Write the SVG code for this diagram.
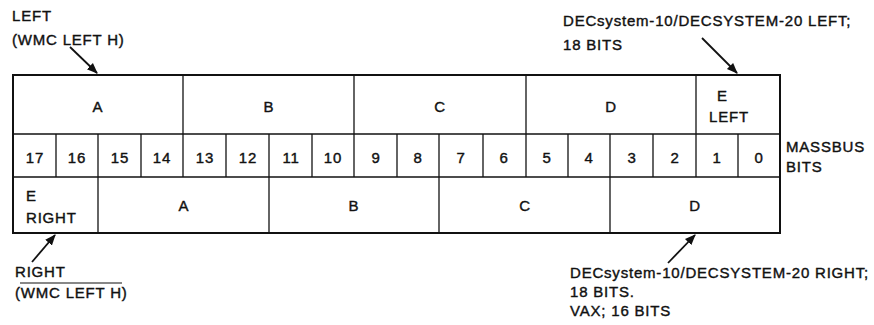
<svg xmlns="http://www.w3.org/2000/svg" width="874" height="325" viewBox="0 0 874 325">
<style>
text{font-family:"Liberation Sans",Arial,sans-serif;font-size:15px;fill:#111;stroke:#111;stroke-width:0.4;letter-spacing:0.8px}
.c{text-anchor:middle}
.ln{stroke:#111;stroke-width:1.3;fill:none}
.box{stroke:#111;stroke-width:2;fill:#fff}
.ar{stroke:#111;stroke-width:1.8;fill:none}
</style>
<defs>
<marker id="ah" viewBox="0 0 10 10" refX="9" refY="5" markerWidth="11" markerHeight="11" markerUnits="userSpaceOnUse" orient="auto">
<path d="M0,1 L10,5 L0,9 z" fill="#111"/>
</marker>
</defs>
<g id="register">
<rect class="box" x="13" y="75" width="767" height="158"/>
<line class="ln" x1="13" y1="134" x2="780" y2="134"/>
<line class="ln" x1="13" y1="177" x2="780" y2="177"/>
<g id="top-row">
<line class="ln" x1="183" y1="75" x2="183" y2="134"/>
<line class="ln" x1="354" y1="75" x2="354" y2="134"/>
<line class="ln" x1="526" y1="75" x2="526" y2="134"/>
<line class="ln" x1="696" y1="75" x2="696" y2="134"/>
<text class="c" x="98" y="112">A</text>
<text class="c" x="269" y="112">B</text>
<text class="c" x="440" y="112">C</text>
<text class="c" x="611" y="112">D</text>
<text x="717" y="101">E</text>
<text x="709" y="122">LEFT</text>
</g>
<g id="bit-row">
<line class="ln" x1="56" y1="134" x2="56" y2="177"/>
<line class="ln" x1="98" y1="134" x2="98" y2="177"/>
<line class="ln" x1="141" y1="134" x2="141" y2="177"/>
<line class="ln" x1="183" y1="134" x2="183" y2="177"/>
<line class="ln" x1="226" y1="134" x2="226" y2="177"/>
<line class="ln" x1="269" y1="134" x2="269" y2="177"/>
<line class="ln" x1="312" y1="134" x2="312" y2="177"/>
<line class="ln" x1="354" y1="134" x2="354" y2="177"/>
<line class="ln" x1="397" y1="134" x2="397" y2="177"/>
<line class="ln" x1="439" y1="134" x2="439" y2="177"/>
<line class="ln" x1="483" y1="134" x2="483" y2="177"/>
<line class="ln" x1="526" y1="134" x2="526" y2="177"/>
<line class="ln" x1="568" y1="134" x2="568" y2="177"/>
<line class="ln" x1="610" y1="134" x2="610" y2="177"/>
<line class="ln" x1="653" y1="134" x2="653" y2="177"/>
<line class="ln" x1="696" y1="134" x2="696" y2="177"/>
<line class="ln" x1="738" y1="134" x2="738" y2="177"/>
<text class="c" x="35" y="163">17</text>
<text class="c" x="77" y="163">16</text>
<text class="c" x="120" y="163">15</text>
<text class="c" x="162" y="163">14</text>
<text class="c" x="205" y="163">13</text>
<text class="c" x="248" y="163">12</text>
<text class="c" x="291" y="163">11</text>
<text class="c" x="333" y="163">10</text>
<text class="c" x="376" y="163">9</text>
<text class="c" x="418" y="163">8</text>
<text class="c" x="461" y="163">7</text>
<text class="c" x="504" y="163">6</text>
<text class="c" x="547" y="163">5</text>
<text class="c" x="589" y="163">4</text>
<text class="c" x="632" y="163">3</text>
<text class="c" x="675" y="163">2</text>
<text class="c" x="717" y="163">1</text>
<text class="c" x="759" y="163">0</text>
</g>
<g id="bottom-row">
<line class="ln" x1="98" y1="177" x2="98" y2="233"/>
<line class="ln" x1="269" y1="177" x2="269" y2="233"/>
<line class="ln" x1="439" y1="177" x2="439" y2="233"/>
<line class="ln" x1="610" y1="177" x2="610" y2="233"/>
<text x="26" y="201">E</text>
<text x="26" y="223">RIGHT</text>
<text class="c" x="184" y="211">A</text>
<text class="c" x="354" y="211">B</text>
<text class="c" x="525" y="211">C</text>
<text class="c" x="695" y="211">D</text>
</g>
</g>
<g id="label-massbus">
<text x="786" y="152">MASSBUS</text>
<text x="786" y="172">BITS</text>
</g>
<g id="label-left">
<text x="12" y="21">LEFT</text>
<text x="12" y="45">(WMC LEFT H)</text>
</g>
<g id="label-dec-left">
<text x="563" y="26">DECsystem-10/DECSYSTEM-20 LEFT;</text>
<text x="563" y="50">18 BITS</text>
</g>
<g id="label-right">
<text x="15" y="277">RIGHT</text>
<line x1="20" y1="283" x2="122" y2="283" stroke="#111" stroke-width="1.2"/>
<text x="15" y="298">(WMC LEFT H)</text>
</g>
<g id="label-dec-right">
<text x="570" y="278">DECsystem-10/DECSYSTEM-20 RIGHT;</text>
<text x="570" y="297">18 BITS.</text>
<text x="570" y="316">VAX; 16 BITS</text>
</g>
<g id="connectors">
<line class="ar" x1="70" y1="47" x2="97" y2="73" marker-end="url(#ah)"/>
<line class="ar" x1="702" y1="38" x2="737" y2="73" marker-end="url(#ah)"/>
<line class="ar" x1="32" y1="262" x2="55" y2="235" marker-end="url(#ah)"/>
<line class="ar" x1="668" y1="263" x2="695" y2="235" marker-end="url(#ah)"/>
</g>
</svg>
